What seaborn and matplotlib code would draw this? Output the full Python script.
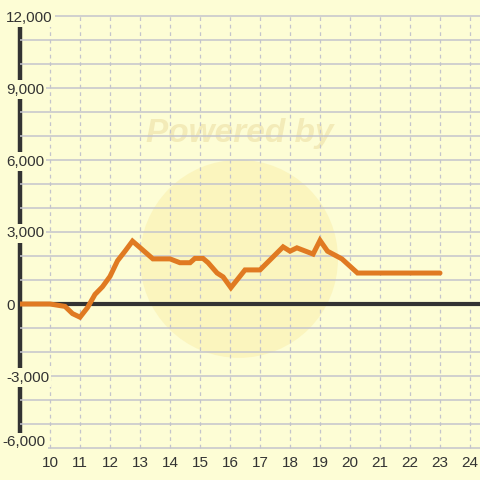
import matplotlib
matplotlib.use("Agg")
import matplotlib.pyplot as plt
import seaborn as sns
import pandas as pd
from matplotlib.ticker import MultipleLocator, FuncFormatter
from matplotlib.patches import Ellipse

# values
hours = [9, 10, 10.5, 10.75, 11, 11.25, 11.5, 11.75, 12, 12.25, 12.5, 12.75,
         13, 13.43, 14, 14.33, 14.67, 14.83, 15.1, 15.27, 15.57, 15.77, 16.03,
         16.5, 17, 17.77, 18, 18.23, 18.77, 19, 19.25, 19.73, 20.25, 23]
values = [0, 0, -100, -400, -550, -150, 400, 720, 1150, 1800, 2200, 2620,
          2350, 1880, 1880, 1720, 1720, 1900, 1900, 1720, 1290, 1130, 680,
          1420, 1420, 2380, 2200, 2340, 2080, 2650, 2200, 1880, 1290, 1290]
x_ticks = list(range(10, 25))
y_min, y_max = -6000, 12000

bg = "#FDFDD5"
ink = "#333333"
sns.set_style("white")
plt.rcParams["font.family"] = ["Liberation Sans", "DejaVu Sans"]

df = pd.DataFrame({"hour": hours, "value": values})

fig = plt.figure(figsize=(4.8, 4.8), dpi=100, facecolor=bg)
ax = fig.add_axes([20 / 480, 28 / 480, 460 / 480, 444 / 480])
ax.set_facecolor(bg)

# faint watermark
ax.add_patch(Ellipse((0.476, 0.435), 198 / 460, 198 / 444, transform=ax.transAxes,
                     facecolor="#FAF0B0", edgecolor="none", alpha=0.6, zorder=0.3))
ax.text(0.478, 0.718, "Powered by", transform=ax.transAxes, ha="center", va="center",
        fontsize=24, fontweight="bold", fontstyle="italic", color="#F3EBB8", zorder=0.4)

sns.lineplot(data=df, x="hour", y="value", ax=ax, color="#E07A22", linewidth=3.6,
             zorder=4, solid_joinstyle="miter")

ax.set_xlim(9, 9 + 460 / 30)
ax.set_ylim(y_min - 4 * 1000 / 24, y_max + 8 * 1000 / 24)
ax.set_xlabel("")
ax.set_ylabel("")

ax.yaxis.set_major_locator(MultipleLocator(3000))
ax.yaxis.set_minor_locator(MultipleLocator(1000))
ax.yaxis.set_major_formatter(FuncFormatter(lambda v, p: "" if v == y_min else f"{v:,.0f}"))
ax.set_xticks(x_ticks)

ax.set_axisbelow(False)
ax.grid(axis="y", which="both", color="#C4C4CC", linewidth=1.1, linestyle="-", zorder=1)
ax.vlines(x_ticks, y_min, y_max, color="#C4C4CC", linewidth=0.9,
          linestyle=(0, (3, 3)), zorder=1)

for s in ["top", "right", "bottom"]:
    ax.spines[s].set_visible(False)
ax.spines["left"].set_color(ink)
ax.spines["left"].set_linewidth(3.2)
ax.spines["left"].set_bounds(y_min, y_max)
ax.axhline(0, color=ink, linewidth=3, zorder=3)

ax.tick_params(axis="both", which="both", length=0, labelsize=11, labelcolor=ink)
ax.tick_params(axis="x", pad=3)
ax.tick_params(axis="y", pad=10)
for lbl in ax.get_yticklabels():
    lbl.set_horizontalalignment("left")
    lbl.set_bbox(dict(facecolor=bg, edgecolor="none", pad=1.5))
    lbl.set_zorder(10)

# bottom label sits a little above its gridline, as in the reference
ax.annotate(f"{y_min:,}", xy=(0, y_min), xycoords=ax.get_yaxis_transform(),
            xytext=(-12.5, 4.5), textcoords="offset points", ha="left", va="center",
            fontsize=11, color=ink, zorder=10, annotation_clip=False,
            bbox=dict(facecolor=bg, edgecolor="none", pad=1.5))

fig.savefig("out.png", dpi=100, facecolor=bg)
